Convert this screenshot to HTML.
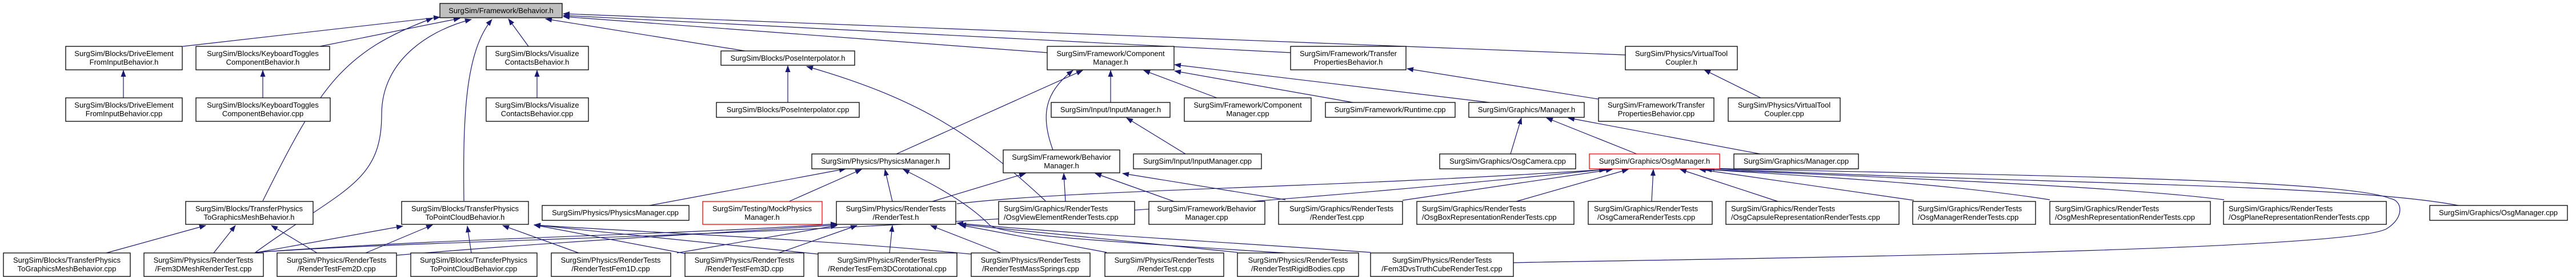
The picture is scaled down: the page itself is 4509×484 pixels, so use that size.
<!DOCTYPE html>
<html><head><meta charset="utf-8"><style>
html,body{margin:0;padding:0;background:#fff;}
svg{display:block;}
text{font-family:"Liberation Sans",sans-serif;font-size:13px;fill:#000;}
.b{fill:#fff;stroke:#000;stroke-width:1.3;}
.r{fill:#fff;stroke:#f00;stroke-width:1.3;}
.e{fill:none;stroke:#191970;stroke-width:1.2;}
</style></head><body>
<svg width="4509" height="484" viewBox="0 0 4509 484" xmlns="http://www.w3.org/2000/svg">
<defs><marker id="a" markerWidth="12" markerHeight="9" refX="11" refY="4.5" orient="auto" markerUnits="userSpaceOnUse"><path d="M0,0 L12,4.5 L0,9 z" fill="#191970"/></marker></defs>
<g class="edges">
<path class="e" marker-end="url(#a)" d="M320,81 L770,30"/>
<path class="e" marker-end="url(#a)" d="M560,81 L805,32"/>
<path class="e" marker-end="url(#a)" d="M460,351 C560,150 600,90 757,32"/>
<path class="e" marker-end="url(#a)" d="M447,441 C600,330 668,320 668,200 C668,100 760,50 825,34"/>
<path class="e" marker-end="url(#a)" d="M812,351 C810,200 815,90 861,34"/>
<path class="e" marker-end="url(#a)" d="M925,81 L890,33"/>
<path class="e" marker-end="url(#a)" d="M1304,89 L955,33"/>
<path class="e" marker-end="url(#a)" d="M1833,92 L986,29"/>
<path class="e" marker-end="url(#a)" d="M2259,92 L986,27"/>
<path class="e" marker-end="url(#a)" d="M2845,96 L986,24"/>
<path class="e" marker-end="url(#a)" d="M216,171 L216,123"/>
<path class="e" marker-end="url(#a)" d="M460,171 L460,123"/>
<path class="e" marker-end="url(#a)" d="M940,171 L940,123"/>
<path class="e" marker-end="url(#a)" d="M1379,179 L1379,115"/>
<path class="e" marker-end="url(#a)" d="M1569,269 L1895,123"/>
<path class="e" marker-end="url(#a)" d="M1843,262 C1820,200 1830,160 1878,123"/>
<path class="e" marker-end="url(#a)" d="M1944,179 L1944,123"/>
<path class="e" marker-end="url(#a)" d="M2130,171 L2002,123"/>
<path class="e" marker-end="url(#a)" d="M2368,179 L2056,124"/>
<path class="e" marker-end="url(#a)" d="M2607,179 L2056,113"/>
<path class="e" marker-end="url(#a)" d="M1830,351 C1700,230 1600,170 1412,116"/>
<path class="e" marker-end="url(#a)" d="M2075,269 L1972,206"/>
<path class="e" marker-end="url(#a)" d="M2797,173 L2463,120"/>
<path class="e" marker-end="url(#a)" d="M3082,171 L2983,122"/>
<path class="e" marker-end="url(#a)" d="M2644,269 L2663,206"/>
<path class="e" marker-end="url(#a)" d="M2865,269 L2707,206"/>
<path class="e" marker-end="url(#a)" d="M3081,269 L2745,206"/>
<path class="e" marker-end="url(#a)" d="M1137,359 L1480,295"/>
<path class="e" marker-end="url(#a)" d="M1381,352 L1508,296"/>
<path class="e" marker-end="url(#a)" d="M1562,352 L1549,296"/>
<path class="e" marker-end="url(#a)" d="M2250,442 C1900,420 1760,410 1733,394 C1700,360 1650,330 1581,296"/>
<path class="e" marker-end="url(#a)" d="M1632,352 L1795,303"/>
<path class="e" marker-end="url(#a)" d="M1865,352 L1862,303"/>
<path class="e" marker-end="url(#a)" d="M2055,352 L1917,303"/>
<path class="e" marker-end="url(#a)" d="M2250,349 L1965,303"/>
<path class="e" marker-end="url(#a)" d="M2455,350 L2822,296"/>
<path class="e" marker-end="url(#a)" d="M1675,356 C1900,330 2300,330 2812,296"/>
<path class="e" marker-end="url(#a)" d="M2654,352 L2850,296"/>
<path class="e" marker-end="url(#a)" d="M2891,352 L2894,296"/>
<path class="e" marker-end="url(#a)" d="M3112,352 L2941,296"/>
<path class="e" marker-end="url(#a)" d="M3350,350 L2975,296"/>
<path class="e" marker-end="url(#a)" d="M3588,349 C3400,320 3200,310 2985,296"/>
<path class="e" marker-end="url(#a)" d="M3893,349 C3700,325 3300,310 2985,296"/>
<path class="e" marker-end="url(#a)" d="M4303,359 C4100,320 3500,320 2985,294"/>
<path class="e" marker-end="url(#a)" d="M2649,459 C3000,452 4100,440 4177,400 C4210,380 4205,350 4184,347 C4100,310 3400,305 2990,294"/>
<path class="e" marker-end="url(#a)" d="M447,441 C900,410 1600,420 2810,296"/>
<path class="e" marker-end="url(#a)" d="M445,442 L705,395"/>
<path class="e" marker-end="url(#a)" d="M640,442 L757,393"/>
<path class="e" marker-end="url(#a)" d="M825,442 L818,395"/>
<path class="e" marker-end="url(#a)" d="M1013,442 L880,394"/>
<path class="e" marker-end="url(#a)" d="M1199,443 L935,393"/>
<path class="e" marker-end="url(#a)" d="M1432,444 L935,393"/>
<path class="e" marker-end="url(#a)" d="M1700,444 C1400,415 1100,405 935,393"/>
<path class="e" marker-end="url(#a)" d="M186,442 L360,394"/>
<path class="e" marker-end="url(#a)" d="M374,442 L412,394"/>
<path class="e" marker-end="url(#a)" d="M555,442 L475,394"/>
<path class="e" marker-end="url(#a)" d="M447,441 C800,415 1200,410 1465,391"/>
<path class="e" marker-end="url(#a)" d="M694,446 C1000,420 1300,405 1465,393"/>
<path class="e" marker-end="url(#a)" d="M1185,442 L1465,394"/>
<path class="e" marker-end="url(#a)" d="M1363,442 L1500,394"/>
<path class="e" marker-end="url(#a)" d="M1557,442 L1562,394"/>
<path class="e" marker-end="url(#a)" d="M1752,442 L1629,394"/>
<path class="e" marker-end="url(#a)" d="M1937,441 L1680,393"/>
<path class="e" marker-end="url(#a)" d="M2166,441 L1680,392"/>
<path class="e" marker-end="url(#a)" d="M2399,441 C2100,420 1900,410 1675,390"/>
</g>
<g>
<rect x="770" y="6" width="214" height="25" fill="#bfbfbf" stroke="#000" stroke-width="1.3"/><text x="877" y="23" text-anchor="middle">SurgSim/Framework/Behavior.h</text>
</g>
<g text-anchor="middle">
<rect class="b" x="115" y="81" width="204" height="41"/><text x="217" y="98" text-anchor="middle">SurgSim/Blocks/DriveElement</text><text x="217" y="113" text-anchor="middle">FromInputBehavior.h</text>
<rect class="b" x="343" y="81" width="234" height="41"/><text x="460" y="98" text-anchor="middle">SurgSim/Blocks/KeyboardToggles</text><text x="460" y="113" text-anchor="middle">ComponentBehavior.h</text>
<rect class="b" x="851" y="81" width="179" height="41"/><text x="940" y="98" text-anchor="middle">SurgSim/Blocks/Visualize</text><text x="940" y="113" text-anchor="middle">ContactsBehavior.h</text>
<rect class="b" x="1262" y="89" width="234" height="25"/><text x="1379" y="106" text-anchor="middle">SurgSim/Blocks/PoseInterpolator.h</text>
<rect class="b" x="1833" y="81" width="222" height="41"/><text x="1944" y="98" text-anchor="middle">SurgSim/Framework/Component</text><text x="1944" y="113" text-anchor="middle">Manager.h</text>
<rect class="b" x="2259" y="81" width="202" height="41"/><text x="2360" y="98" text-anchor="middle">SurgSim/Framework/Transfer</text><text x="2360" y="113" text-anchor="middle">PropertiesBehavior.h</text>
<rect class="b" x="2845" y="81" width="196" height="41"/><text x="2943" y="98" text-anchor="middle">SurgSim/Physics/VirtualTool</text><text x="2943" y="113" text-anchor="middle">Coupler.h</text>

<rect class="b" x="115" y="171" width="204" height="41"/><text x="217" y="188" text-anchor="middle">SurgSim/Blocks/DriveElement</text><text x="217" y="203" text-anchor="middle">FromInputBehavior.cpp</text>
<rect class="b" x="343" y="171" width="235" height="41"/><text x="460" y="188" text-anchor="middle">SurgSim/Blocks/KeyboardToggles</text><text x="460" y="203" text-anchor="middle">ComponentBehavior.cpp</text>
<rect class="b" x="851" y="171" width="179" height="41"/><text x="940" y="188" text-anchor="middle">SurgSim/Blocks/Visualize</text><text x="940" y="203" text-anchor="middle">ContactsBehavior.cpp</text>
<rect class="b" x="1254" y="179" width="250" height="26"/><text x="1379" y="196" text-anchor="middle">SurgSim/Blocks/PoseInterpolator.cpp</text>
<rect class="b" x="1840" y="179" width="208" height="26"/><text x="1944" y="196" text-anchor="middle">SurgSim/Input/InputManager.h</text>
<rect class="b" x="2073" y="171" width="222" height="41"/><text x="2184" y="188" text-anchor="middle">SurgSim/Framework/Component</text><text x="2184" y="203" text-anchor="middle">Manager.cpp</text>
<rect class="b" x="2320" y="179" width="227" height="26"/><text x="2433" y="196" text-anchor="middle">SurgSim/Framework/Runtime.cpp</text>
<rect class="b" x="2571" y="179" width="202" height="26"/><text x="2672" y="196" text-anchor="middle">SurgSim/Graphics/Manager.h</text>
<rect class="b" x="2798" y="171" width="202" height="41"/><text x="2899" y="188" text-anchor="middle">SurgSim/Framework/Transfer</text><text x="2899" y="203" text-anchor="middle">PropertiesBehavior.cpp</text>
<rect class="b" x="3025" y="171" width="196" height="41"/><text x="3123" y="188" text-anchor="middle">SurgSim/Physics/VirtualTool</text><text x="3123" y="203" text-anchor="middle">Coupler.cpp</text>

<rect class="b" x="1421" y="269" width="241" height="26"/><text x="1541" y="286" text-anchor="middle">SurgSim/Physics/PhysicsManager.h</text>
<rect class="b" x="1756" y="262" width="204" height="40"/><text x="1858" y="279" text-anchor="middle">SurgSim/Framework/Behavior</text><text x="1858" y="294" text-anchor="middle">Manager.h</text>
<rect class="b" x="1984" y="269" width="224" height="26"/><text x="2096" y="286" text-anchor="middle">SurgSim/Input/InputManager.cpp</text>
<rect class="b" x="2520" y="269" width="238" height="26"/><text x="2639" y="286" text-anchor="middle">SurgSim/Graphics/OsgCamera.cpp</text>
<rect class="r" x="2782" y="269" width="228" height="26"/><text x="2896" y="286" text-anchor="middle">SurgSim/Graphics/OsgManager.h</text>
<rect class="b" x="3035" y="269" width="218" height="26"/><text x="3144" y="286" text-anchor="middle">SurgSim/Graphics/Manager.cpp</text>

<rect class="b" x="325" y="352" width="223" height="40"/><text x="436" y="369" text-anchor="middle">SurgSim/Blocks/TransferPhysics</text><text x="436" y="384" text-anchor="middle">ToGraphicsMeshBehavior.h</text>
<rect class="b" x="703" y="352" width="222" height="40"/><text x="814" y="369" text-anchor="middle">SurgSim/Blocks/TransferPhysics</text><text x="814" y="384" text-anchor="middle">ToPointCloudBehavior.h</text>
<rect class="b" x="949" y="359" width="257" height="26"/><text x="1077" y="376" text-anchor="middle">SurgSim/Physics/PhysicsManager.cpp</text>
<rect class="r" x="1230" y="352" width="209" height="40"/><text x="1334" y="369" text-anchor="middle">SurgSim/Testing/MockPhysics</text><text x="1334" y="384" text-anchor="middle">Manager.h</text>
<rect class="b" x="1464" y="352" width="209" height="40"/><text x="1568" y="369" text-anchor="middle">SurgSim/Physics/RenderTests</text><text x="1568" y="384" text-anchor="middle">/RenderTest.h</text>
<rect class="b" x="2011" y="352" width="203" height="40"/><text x="2112" y="369" text-anchor="middle">SurgSim/Framework/Behavior</text><text x="2112" y="384" text-anchor="middle">Manager.cpp</text>
<rect class="b" x="4253" y="359" width="241" height="26"/><text x="4373" y="376" text-anchor="middle">SurgSim/Graphics/OsgManager.cpp</text>
</g>
<g>
<rect class="b" x="1748" y="352" width="238" height="40"/><text x="1757" y="369">SurgSim/Graphics/RenderTests</text><text x="1757" y="384">/OsgViewElementRenderTests.cpp</text>
<rect class="b" x="2238" y="352" width="217" height="40"/><text x="2257" y="369">SurgSim/Graphics/RenderTests</text><text x="2293" y="384">/RenderTest.cpp</text>
<rect class="b" x="2480" y="352" width="275" height="40"/><text x="2489" y="369">SurgSim/Graphics/RenderTests</text><text x="2489" y="384">/OsgBoxRepresentationRenderTests.cpp</text>
<rect class="b" x="2780" y="352" width="217" height="40"/><text x="2790" y="369">SurgSim/Graphics/RenderTests</text><text x="2796" y="384">/OsgCameraRenderTests.cpp</text>
<rect class="b" x="3021" y="352" width="303" height="40"/><text x="3030" y="369">SurgSim/Graphics/RenderTests</text><text x="3030" y="384">/OsgCapsuleRepresentationRenderTests.cpp</text>
<rect class="b" x="3348" y="352" width="215" height="40"/><text x="3357" y="369">SurgSim/Graphics/RenderTests</text><text x="3357" y="384">/OsgManagerRenderTests.cpp</text>
<rect class="b" x="3588" y="352" width="281" height="40"/><text x="3597" y="369">SurgSim/Graphics/RenderTests</text><text x="3597" y="384">/OsgMeshRepresentationRenderTests.cpp</text>
<rect class="b" x="3892" y="352" width="285" height="40"/><text x="3901" y="369">SurgSim/Graphics/RenderTests</text><text x="3901" y="384">/OsgPlaneRepresentationRenderTests.cpp</text>
</g>
<g text-anchor="middle">
<rect class="b" x="6" y="442" width="222" height="41"/><text x="117" y="459" text-anchor="middle">SurgSim/Blocks/TransferPhysics</text><text x="117" y="474" text-anchor="middle">ToGraphicsMeshBehavior.cpp</text>
<rect class="b" x="252" y="442" width="209" height="41"/><text x="356" y="459" text-anchor="middle">SurgSim/Physics/RenderTests</text><text x="356" y="474" text-anchor="middle">/Fem3DMeshRenderTest.cpp</text>
<rect class="b" x="485" y="442" width="209" height="41"/><text x="589" y="459" text-anchor="middle">SurgSim/Physics/RenderTests</text><text x="589" y="474" text-anchor="middle">/RenderTestFem2D.cpp</text>
<rect class="b" x="719" y="442" width="221" height="41"/><text x="829" y="459" text-anchor="middle">SurgSim/Blocks/TransferPhysics</text><text x="829" y="474" text-anchor="middle">ToPointCloudBehavior.cpp</text>
<rect class="b" x="965" y="442" width="209" height="41"/><text x="1069" y="459" text-anchor="middle">SurgSim/Physics/RenderTests</text><text x="1069" y="474" text-anchor="middle">/RenderTestFem1D.cpp</text>
<rect class="b" x="1199" y="442" width="208" height="41"/><text x="1303" y="459" text-anchor="middle">SurgSim/Physics/RenderTests</text><text x="1303" y="474" text-anchor="middle">/RenderTestFem3D.cpp</text>
<rect class="b" x="1432" y="442" width="243" height="41"/><text x="1553" y="459" text-anchor="middle">SurgSim/Physics/RenderTests</text><text x="1553" y="474" text-anchor="middle">/RenderTestFem3DCorotational.cpp</text>
<rect class="b" x="1700" y="442" width="208" height="41"/><text x="1804" y="459" text-anchor="middle">SurgSim/Physics/RenderTests</text><text x="1804" y="474" text-anchor="middle">/RenderTestMassSprings.cpp</text>
<rect class="b" x="1934" y="442" width="208" height="41"/><text x="2038" y="459" text-anchor="middle">SurgSim/Physics/RenderTests</text><text x="2038" y="474" text-anchor="middle">/RenderTest.cpp</text>
<rect class="b" x="2166" y="442" width="212" height="41"/><text x="2272" y="459" text-anchor="middle">SurgSim/Physics/RenderTests</text><text x="2272" y="474" text-anchor="middle">/RenderTestRigidBodies.cpp</text>
<rect class="b" x="2399" y="442" width="250" height="41"/><text x="2524" y="459" text-anchor="middle">SurgSim/Physics/RenderTests</text><text x="2524" y="474" text-anchor="middle">/Fem3DvsTruthCubeRenderTest.cpp</text>
</g>
</svg>
</body></html>
